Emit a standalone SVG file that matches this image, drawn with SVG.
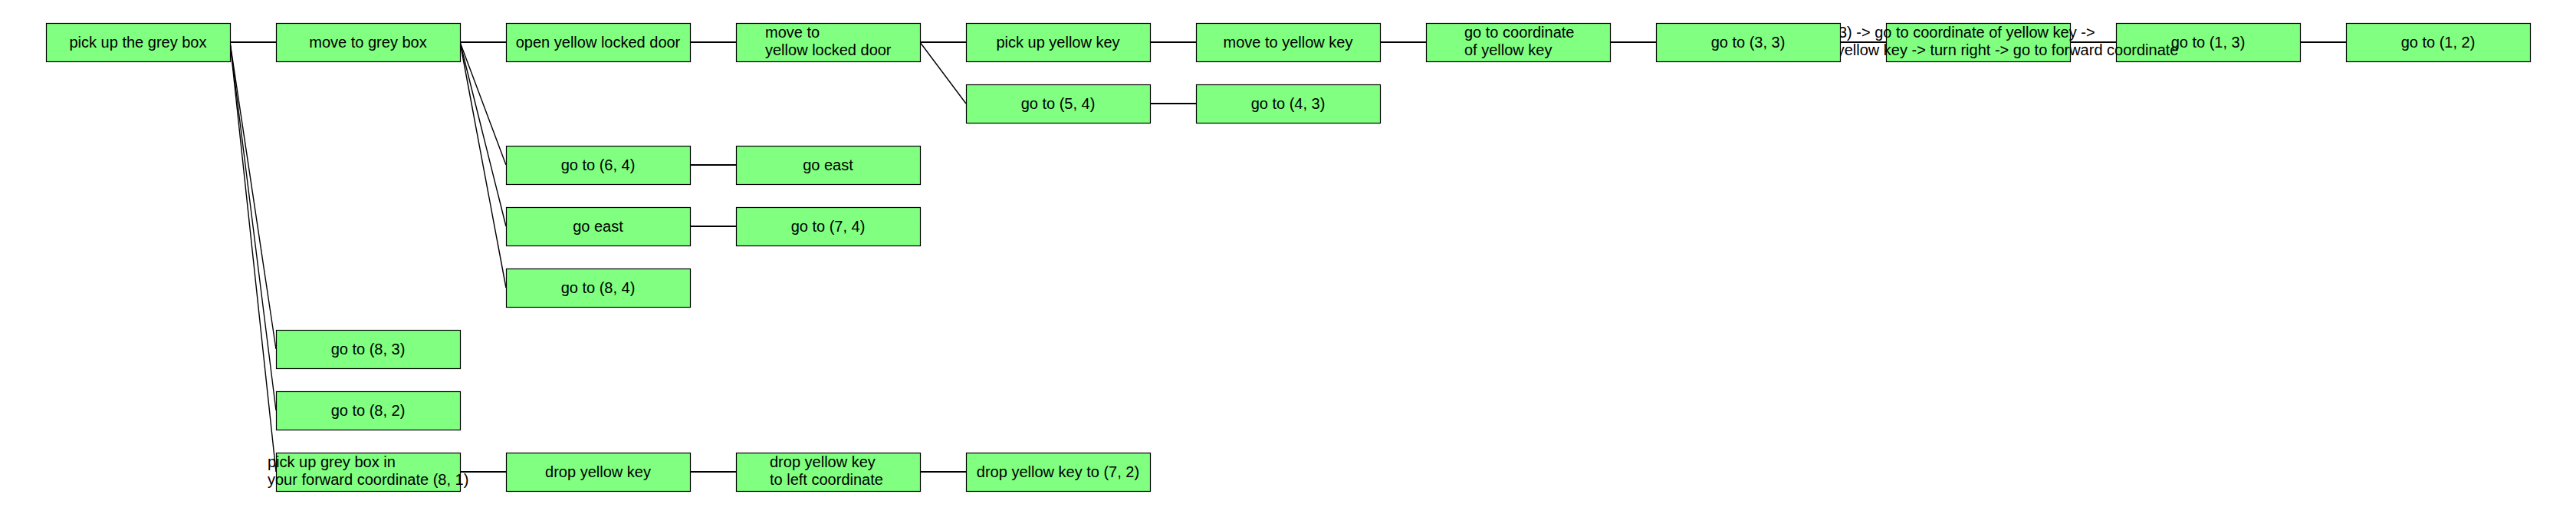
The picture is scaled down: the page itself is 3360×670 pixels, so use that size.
<svg xmlns="http://www.w3.org/2000/svg" width="3360" height="670" viewBox="0 0 3360 670">
<style>
.n rect{fill:#80ff80;stroke:#000;stroke-width:1.2}
.n text{font-family:"Liberation Sans",Arial,sans-serif;font-size:20px;fill:#000}
.c{text-anchor:middle}
#edges line{stroke:#000;stroke-width:1.4;fill:none}
#edges line.h{stroke-width:2}
</style>
<rect width="3360" height="670" fill="#fff"/>
<g id="edges">
<line class="h" x1="300" y1="55" x2="360" y2="55"/>
<line x1="300" y1="55" x2="360" y2="455"/>
<line x1="300" y1="55" x2="360" y2="535"/>
<line x1="300" y1="55" x2="360" y2="615"/>
<line class="h" x1="600" y1="55" x2="660" y2="55"/>
<line x1="600" y1="55" x2="660" y2="215"/>
<line x1="600" y1="55" x2="660" y2="295"/>
<line x1="600" y1="55" x2="660" y2="375"/>
<line class="h" x1="900" y1="55" x2="960" y2="55"/>
<line class="h" x1="1200" y1="55" x2="1260" y2="55"/>
<line x1="1200" y1="55" x2="1260" y2="135"/>
<line class="h" x1="1500" y1="55" x2="1560" y2="55"/>
<line class="h" x1="1800" y1="55" x2="1860" y2="55"/>
<line class="h" x1="2100" y1="55" x2="2160" y2="55"/>
<line class="h" x1="2400" y1="55" x2="2460" y2="55"/>
<line class="h" x1="2700" y1="55" x2="2760" y2="55"/>
<line class="h" x1="3000" y1="55" x2="3060" y2="55"/>
<line class="h" x1="1500" y1="135" x2="1560" y2="135"/>
<line class="h" x1="900" y1="215" x2="960" y2="215"/>
<line class="h" x1="900" y1="295" x2="960" y2="295"/>
<line class="h" x1="600" y1="615" x2="660" y2="615"/>
<line class="h" x1="900" y1="615" x2="960" y2="615"/>
<line class="h" x1="1200" y1="615" x2="1260" y2="615"/>
</g>
<g id="n_go12" class="n"><rect x="3060.5" y="30.5" width="240" height="50"/><text class="c" x="3180" y="62">go to (1, 2)</text></g>
<g id="n_go13" class="n"><rect x="2760.5" y="30.5" width="240" height="50"/><text class="c" x="2880" y="62">go to (1, 3)</text></g>
<g id="n_chain" class="n"><rect x="2460.5" y="30.5" width="240" height="50"/><text x="2319" y="49">go to (3, 3) -&gt; go to coordinate of yellow key -&gt;</text><text x="2319" y="72">move to yellow key -&gt; turn right -&gt; go to forward coordinate</text></g>
<g id="n_go33" class="n"><rect x="2160.5" y="30.5" width="240" height="50"/><text class="c" x="2280" y="62">go to (3, 3)</text></g>
<g id="n_coordkey" class="n"><rect x="1860.5" y="30.5" width="240" height="50"/><text x="1910" y="49">go to coordinate</text><text x="1910" y="72">of yellow key</text></g>
<g id="n_movekey" class="n"><rect x="1560.5" y="30.5" width="240" height="50"/><text class="c" x="1680" y="62">move to yellow key</text></g>
<g id="n_pickkey" class="n"><rect x="1260.5" y="30.5" width="240" height="50"/><text class="c" x="1380" y="62">pick up yellow key</text></g>
<g id="n_go54" class="n"><rect x="1260.5" y="110.5" width="240" height="50"/><text class="c" x="1380" y="142">go to (5, 4)</text></g>
<g id="n_go43" class="n"><rect x="1560.5" y="110.5" width="240" height="50"/><text class="c" x="1680" y="142">go to (4, 3)</text></g>
<g id="n_movedoor" class="n"><rect x="960.5" y="30.5" width="240" height="50"/><text x="998" y="49">move to</text><text x="998" y="72">yellow locked door</text></g>
<g id="n_opendoor" class="n"><rect x="660.5" y="30.5" width="240" height="50"/><text class="c" x="780" y="62">open yellow locked door</text></g>
<g id="n_go64" class="n"><rect x="660.5" y="190.5" width="240" height="50"/><text class="c" x="780" y="222">go to (6, 4)</text></g>
<g id="n_east1" class="n"><rect x="960.5" y="190.5" width="240" height="50"/><text class="c" x="1080" y="222">go east</text></g>
<g id="n_east2" class="n"><rect x="660.5" y="270.5" width="240" height="50"/><text class="c" x="780" y="302">go east</text></g>
<g id="n_go74" class="n"><rect x="960.5" y="270.5" width="240" height="50"/><text class="c" x="1080" y="302">go to (7, 4)</text></g>
<g id="n_go84" class="n"><rect x="660.5" y="350.5" width="240" height="50"/><text class="c" x="780" y="382">go to (8, 4)</text></g>
<g id="n_movebox" class="n"><rect x="360.5" y="30.5" width="240" height="50"/><text class="c" x="480" y="62">move to grey box</text></g>
<g id="n_go83" class="n"><rect x="360.5" y="430.5" width="240" height="50"/><text class="c" x="480" y="462">go to (8, 3)</text></g>
<g id="n_go82" class="n"><rect x="360.5" y="510.5" width="240" height="50"/><text class="c" x="480" y="542">go to (8, 2)</text></g>
<g id="n_pickfwd" class="n"><rect x="360.5" y="590.5" width="240" height="50"/><text x="349" y="609">pick up grey box in</text><text x="349" y="632">your forward coordinate (8, 1)</text></g>
<g id="n_drop" class="n"><rect x="660.5" y="590.5" width="240" height="50"/><text class="c" x="780" y="622">drop yellow key</text></g>
<g id="n_dropleft" class="n"><rect x="960.5" y="590.5" width="240" height="50"/><text x="1004" y="609">drop yellow key</text><text x="1004" y="632">to left coordinate</text></g>
<g id="n_drop72" class="n"><rect x="1260.5" y="590.5" width="240" height="50"/><text class="c" x="1380" y="622">drop yellow key to (7, 2)</text></g>
<g id="n_root" class="n"><rect x="60.5" y="30.5" width="240" height="50"/><text class="c" x="180" y="62">pick up the grey box</text></g>
</svg>
